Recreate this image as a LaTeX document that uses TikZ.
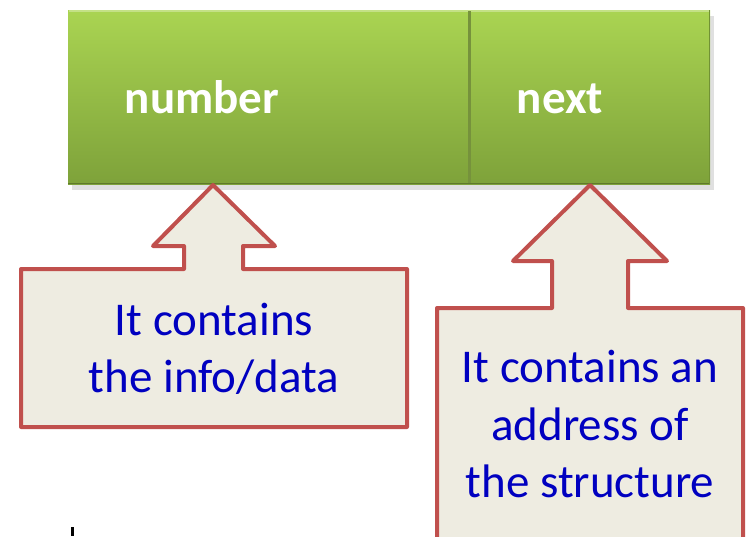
\documentclass[tikz,border=0pt]{standalone}
\usepackage{fontspec}
\newfontfamily\carl{Carlito}
\usetikzlibrary{shadows}
\definecolor{gtop}{HTML}{AAD452}
\definecolor{gbot}{HTML}{7EA23A}
\definecolor{gdiv}{HTML}{76923C}
\definecolor{cfill}{HTML}{EEECE1}
\definecolor{cred}{HTML}{C0504D}
\definecolor{tblue}{HTML}{0000C0}
\tikzset{
  celltext/.style={font=\carl\bfseries\fontsize{47}{56}\selectfont, text=white, anchor=base, inner sep=0pt},
  calltext/.style={font=\carl\fontsize{47}{57}\selectfont, text=tblue, anchor=base, inner sep=0pt},
  callout/.style={draw=cred, fill=cfill, line width=4pt, line join=round},
}
\begin{document}
\begin{tikzpicture}[x=1pt,y=-1pt]
\useasboundingbox (0,0) rectangle (746,536);
% green record
\fill[black!35, opacity=0.35] (72,16) rectangle (714,190);
\shade[top color=gtop, bottom color=gbot] (68,10) rectangle (710,184);
\draw[gtop!70!white, line width=1.2pt] (69,11) -- (709,11);
\draw[gbot!75!black, line width=1.5pt] (68,183.5) -- (710,183.5);
\draw[gbot!90!black, line width=1pt] (709.5,10) -- (709.5,184);
\draw[gdiv, line width=3pt] (469,11) -- (469,183);
\node[celltext] (number) at (202,113) {number};
\node[celltext] (next) at (560,113) {next};
% left callout
\draw[callout] (21,269) -- (184,269) -- (184,246) -- (153,246) -- (213,185) -- (275,246) -- (243,246) -- (243,269) -- (407,269) -- (407,427) -- (21,427) -- cycle;
\node[calltext] (l1) at (214,335) {It contains};
\node[calltext] (l2) at (214,392) {the info/data};
% right callout
\draw[callout] (437,560) -- (437,308) -- (552,308) -- (552,261) -- (513,261) -- (590,185) -- (667,261) -- (628,261) -- (628,308) -- (743,308) -- (743,560);
\node[calltext] (r1) at (590,382) {It contains an};
\node[calltext] (r2) at (590,440) {address of};
\node[calltext] (r3) at (590,497) {the structure};
% small mark
\fill[black] (70.5,527) rectangle (73.5,536);
\end{tikzpicture}
\end{document}
